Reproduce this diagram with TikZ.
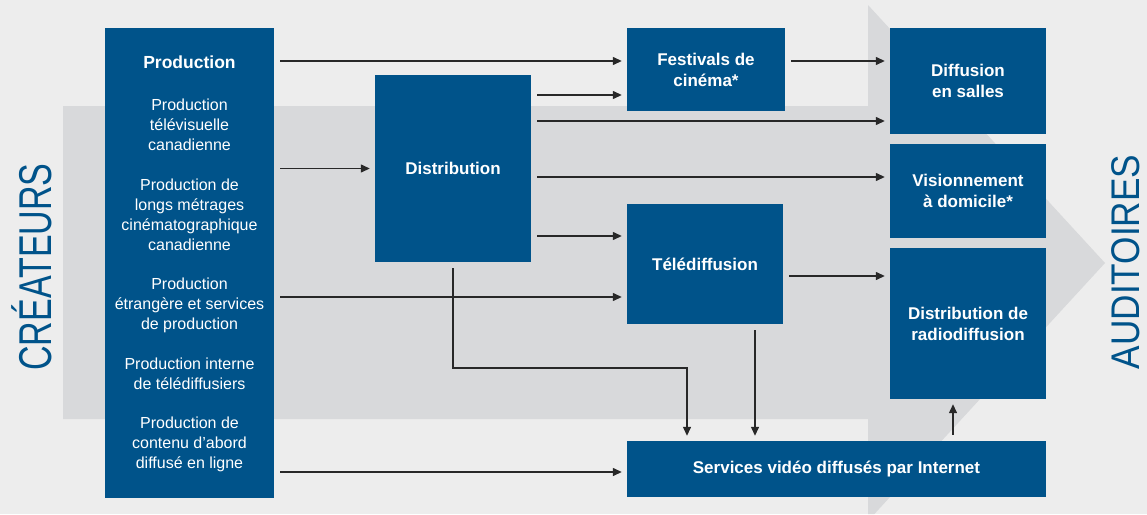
\documentclass[tikz,border=0pt]{standalone}
\usepackage{fontspec}
\setmainfont{Liberation Sans}
\usetikzlibrary{arrows.meta,calc}
\definecolor{bblue}{RGB}{0,83,138}
\definecolor{bgc}{RGB}{237,237,237}
\definecolor{arrowbg}{RGB}{216,217,219}
\definecolor{lnc}{RGB}{40,40,40}
\begin{document}
\begin{tikzpicture}[x=1pt,y=-1pt,
  box/.style={fill=bblue, text=white, inner sep=0pt, align=center,
    font=\bfseries\fontsize{17}{21}\selectfont},
  item/.style={text=white, align=center, inner sep=0pt,
    font=\fontsize{16}{20}\selectfont},
  side/.style={text=bblue, rotate=90, anchor=base, inner sep=0pt},
  conn/.style={draw=lnc, line width=1.3pt, -{Triangle[length=9pt,width=8pt]},
    shorten >=5pt, shorten <=6pt}]
\fill[bgc] (0,0) rectangle (1147,514);
\useasboundingbox (0,0) rectangle (1147,514);
% big background arrow
\fill[arrowbg] (63,106) -- (868,106) -- (868,5) -- (1105,263) -- (874.4,514)
  -- (868,514) -- (868,419) -- (63,419) -- cycle;
% side labels
\node[side] (crea) at (51.5,267) {\fontsize{46}{46}\selectfont\scalebox{0.74}[1]{CRÉATEURS}};
\node[side] (audi) at (1139,262) {\fontsize{40}{40}\selectfont\scalebox{0.88}[1]{AUDITOIRES}};
% boxes
\node[box, minimum width=169pt, minimum height=470pt] (prod) at (189.5,263) {};
\node[box, minimum width=156pt, minimum height=187pt] (dist) at (453,168.5) {Distribution};
\node[box, minimum width=158pt, minimum height=83pt] (fest) at (706,69.5) {Festivals de\\cinéma*};
\node[box, minimum width=156pt, minimum height=120pt] (tele) at (705,264) {Télédiffusion};
\node[box, minimum width=419pt, minimum height=56pt] (serv) at (836.5,469) {Services vidéo diffusés par Internet};
\node[box, minimum width=156pt, minimum height=106pt] (salles) at (968,81) {Diffusion\\en salles};
\node[box, minimum width=156pt, minimum height=94pt] (visio) at (968,191) {Visionnement\\à domicile*};
\node[box, minimum width=156pt, minimum height=151pt] (radio) at (968,323.5) {Distribution de\\radiodiffusion};
% production content
\node[item, font=\bfseries\fontsize{17.5}{21}\selectfont] (ptitle) at (189.5,62) {Production};
\node[item] (p1) at (189.5,125) {Production\\télévisuelle\\canadienne};
\node[item] (p2) at (189.5,215) {Production de\\longs métrages\\cinématographique\\canadienne};
\node[item] (p3) at (189.5,305) {Production\\étrangère et services\\de production};
\node[item] (p4) at (189.5,374) {Production interne\\de télédiffusiers};
\node[item] (p5) at (189.5,444) {Production de\\contenu d’abord\\diffusé en ligne};
% helper levels
\coordinate (l61) at (0,61);
\coordinate (l95) at (0,95);
\coordinate (l121) at (0,121);
\coordinate (l177) at (0,177);
\coordinate (l236) at (0,236);
\coordinate (l276) at (0,276);
\coordinate (l297) at (0,297);
\coordinate (l472) at (0,472);
\coordinate (k1) at (687,368);
\coordinate (c755) at (755,0);
\coordinate (c953) at (953,0);
% connectors
\draw[conn] (prod.east |- l61) -- (fest.west |- l61);
\draw[conn] (prod.east |- dist.west) -- (dist.west);
\draw[conn] (prod.east |- l297) -- (tele.west |- l297);
\draw[conn] (prod.east |- l472) -- (serv.west |- l472);
\draw[conn] (dist.east |- l95) -- (fest.west |- l95);
\draw[conn] (dist.east |- l121) -- (salles.west |- l121);
\draw[conn] (dist.east |- l177) -- (visio.west |- l177);
\draw[conn] (dist.east |- l236) -- (tele.west |- l236);
\draw[conn] (dist.south) |- (k1) -- (k1 |- serv.north);
\draw[conn] (tele.south -| c755) -- (serv.north -| c755);
\draw[conn] (fest.east |- l61) -- (salles.west |- l61);
\draw[conn] (tele.east |- l276) -- (radio.west |- l276);
\draw[conn] (serv.north -| c953) -- (radio.south -| c953);
\end{tikzpicture}
\end{document}
